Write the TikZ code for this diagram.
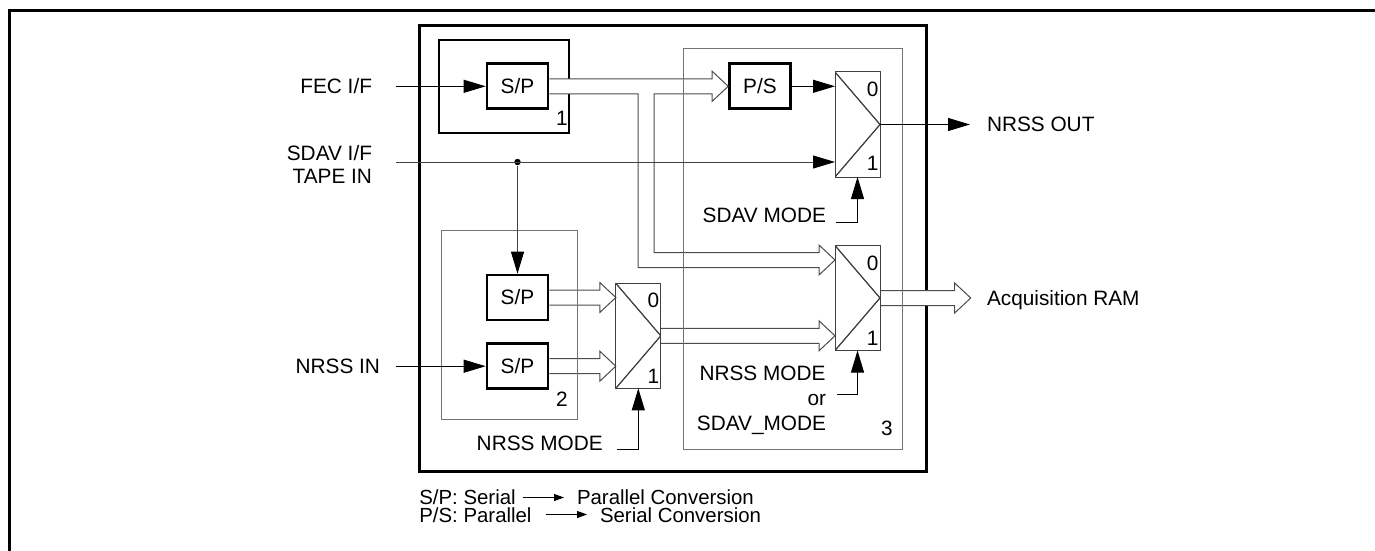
\documentclass[tikz,border=0pt]{standalone}
\usepackage{fontspec}
\setmainfont{Liberation Sans}
\usetikzlibrary{arrows.meta,calc}
\newcommand\hbus[2]{\path[bus] let \p1=(#1), \p2=(#2) in
  (\x1,\y1+3.75pt) -- (\x2-8pt,\y1+3.75pt) -- (\x2-8pt,\y1+7.5pt) -- (\x2,\y1)
  -- (\x2-8pt,\y1-7.5pt) -- (\x2-8pt,\y1-3.75pt) -- (\x1,\y1-3.75pt);}
\begin{document}
\begin{tikzpicture}[x=0.5pt,y=-0.5pt,
  font=\fontsize{10.4}{12.5}\selectfont,
  lbl/.style={inner sep=0pt, outer sep=0pt},
  leg/.style={lbl, font=\fontsize{10.2}{12}\selectfont},
  spbox/.style={draw, line width=1.3pt, minimum width=30.5pt, minimum height=22.5pt, inner sep=0pt},
  mux/.style={draw=black!75, line width=0.5pt, minimum width=22.5pt, minimum height=52.5pt,
    inner sep=0pt, outer sep=0pt,
    path picture={\draw[black!75, line width=0.5pt] (path picture bounding box.north west)
      -- (path picture bounding box.east) -- (path picture bounding box.south west);}},
  graybox/.style={draw=black!55, line width=0.5pt},
  sig/.style={draw, line width=0.5pt, -{Triangle[length=11pt,width=6.5pt]}},
  graysig/.style={sig, draw=black!75, -{Triangle[length=11pt,width=6.5pt,fill=black,color=black]}},
  bus/.style={draw=black!70, line width=0.5pt, fill=white, line join=miter},
  legarrow/.style={draw, line width=0.5pt, -{Triangle[length=5pt,width=3.5pt]}},
  dot/.style={circle, fill, inner sep=0pt, minimum size=3.2pt}
]
\useasboundingbox (0,0) rectangle (1375,551);
% outer frame (clipped by page)
\draw[line width=1.5pt] (1380,11) -- (9,11) -- (9,556);
% main box and box 1
\draw[line width=1.5pt] (419,26) rectangle (926,471);
\draw[line width=1pt] (439,40) rectangle (569,133);
% converter boxes
\node[spbox] (sp1) at (517.5,86.3) {S/P};
\node[spbox] (ps) at (760,86.3) {P/S};
\node[spbox] (spA) at (517.5,297.5) {S/P};
\node[spbox] (spB) at (517.5,366.2) {S/P};
% multiplexers
\node[mux] (muxA) at (857.5,124.5) {};
\node[mux] (muxB) at (857.5,298) {};
\node[mux] (muxC) at (638.3,335.8) {};
% buses
\coordinate (brk) at (646,260);
\path[bus] let \p1=(sp1.east), \p2=(ps.west), \p3=(muxB.west), \p4=(brk) in
  (\x1,\y1+3.75pt) -- (\x2-8pt,\y1+3.75pt) -- (\x2-8pt,\y1+7.5pt) -- (\x2,\y1)
  -- (\x2-8pt,\y1-7.5pt) -- (\x2-8pt,\y1-3.75pt) -- (\x4+4pt,\y1-3.75pt)
  -- (\x4+4pt,\y4+3.75pt) -- (\x3-8pt,\y4+3.75pt) -- (\x3-8pt,\y4+7.5pt) -- (\x3,\y4)
  -- (\x3-8pt,\y4-7.5pt) -- (\x3-8pt,\y4-3.75pt) -- (\x4-4pt,\y4-3.75pt)
  -- (\x4-4pt,\y1-3.75pt) -- (\x1,\y1-3.75pt);
\hbus{spA.east}{muxC.west}
\hbus{spB.east}{muxC.west}
\hbus{muxC.east}{muxB.west}
\coordinate (acq) at (970.7,298);
\hbus{muxB.east}{acq}
% gray sub-boxes
\draw[graybox] (441.7,230) rectangle (577,419);
\draw[graybox] (683.5,49) rectangle (902.7,449);
% redraw mux outlines on top
\node[mux] at (muxA) {};
\node[mux] at (muxB) {};
\node[mux] at (muxC) {};
% signal lines
\coordinate (fecin) at (396,86.3);
\draw[sig] (fecin) -- (sp1.west);
\draw[sig] (ps.east) -- (muxA.west |- ps.east);
\coordinate (sdavin) at (396,162);
\node[dot] (j) at (517.5,162) {};
\draw[graysig] (sdavin) -- (muxA.west |- j);
\draw[graysig] (j) -- (spA.north);
\coordinate (nrssin) at (396,366.2);
\draw[sig] (nrssin) -- (spB.west);
\coordinate (nrssout) at (970,124.5);
\draw[sig] (muxA.east) -- (nrssout);
\coordinate (ctlA) at (836,222.7);
\draw[sig] (ctlA) -| (muxA.south);
\coordinate (ctlB) at (837,394);
\draw[sig] (ctlB) -| (muxB.south);
\coordinate (ctlC) at (616.7,449);
\draw[sig] (ctlC) -| (muxC.south);
% labels
\node[lbl, anchor=base east] (tfec) at (372,93.5) {FEC I/F};
\node[lbl, anchor=base east] (tsdav) at (372,160) {SDAV I/F};
\node[lbl, anchor=base east] (ttape) at (372,184) {TAPE IN};
\node[lbl, anchor=base east] (tnin) at (380,373.5) {NRSS IN};
\node[lbl, anchor=base west] (tnout) at (987,131.5) {NRSS OUT};
\node[lbl, anchor=base west] (tacq) at (987,305.5) {Acquisition RAM};
\node[lbl, anchor=base east] (tsm) at (826,222.7) {SDAV MODE};
\node[lbl, anchor=base east] (tnm1) at (825.5,380.7) {NRSS MODE};
\node[lbl, anchor=base east] (tor) at (826,405) {or};
\node[lbl, anchor=base east] (tsm2) at (826,430) {SDAV\_MODE};
\node[lbl, anchor=base east] (tnm2) at (602.7,450.7) {NRSS MODE};
\node[lbl, anchor=base] (n1) at (562,125.7) {1};
\node[lbl, anchor=base] (n2) at (562,406) {2};
\node[lbl, anchor=base] (n3) at (887,435) {3};
\node[lbl, anchor=base] (a0) at (872.7,96.7) {0};
\node[lbl, anchor=base] (a1) at (872.7,170.7) {1};
\node[lbl, anchor=base] (b0) at (872.7,270) {0};
\node[lbl, anchor=base] (b1) at (872.7,345) {1};
\node[lbl, anchor=base] (c0) at (653.3,307.3) {0};
\node[lbl, anchor=base] (c1) at (653.3,383.3) {1};
% legend
\node[leg, anchor=base west] (lg1) at (419.3,504.5) {S/P: Serial};
\coordinate (la1) at (523,497.5);
\coordinate (lb1) at (564,497.5);
\draw[legarrow] (la1) -- (lb1);
\node[leg, anchor=base west] (lg2) at (577,504.5) {Parallel Conversion};
\node[leg, anchor=base west] (lg3) at (419.3,522) {P/S: Parallel};
\coordinate (la2) at (546,514.5);
\coordinate (lb2) at (587,514.5);
\draw[legarrow] (la2) -- (lb2);
\node[leg, anchor=base west] (lg4) at (600,522) {Serial Conversion};
\end{tikzpicture}
\end{document}
